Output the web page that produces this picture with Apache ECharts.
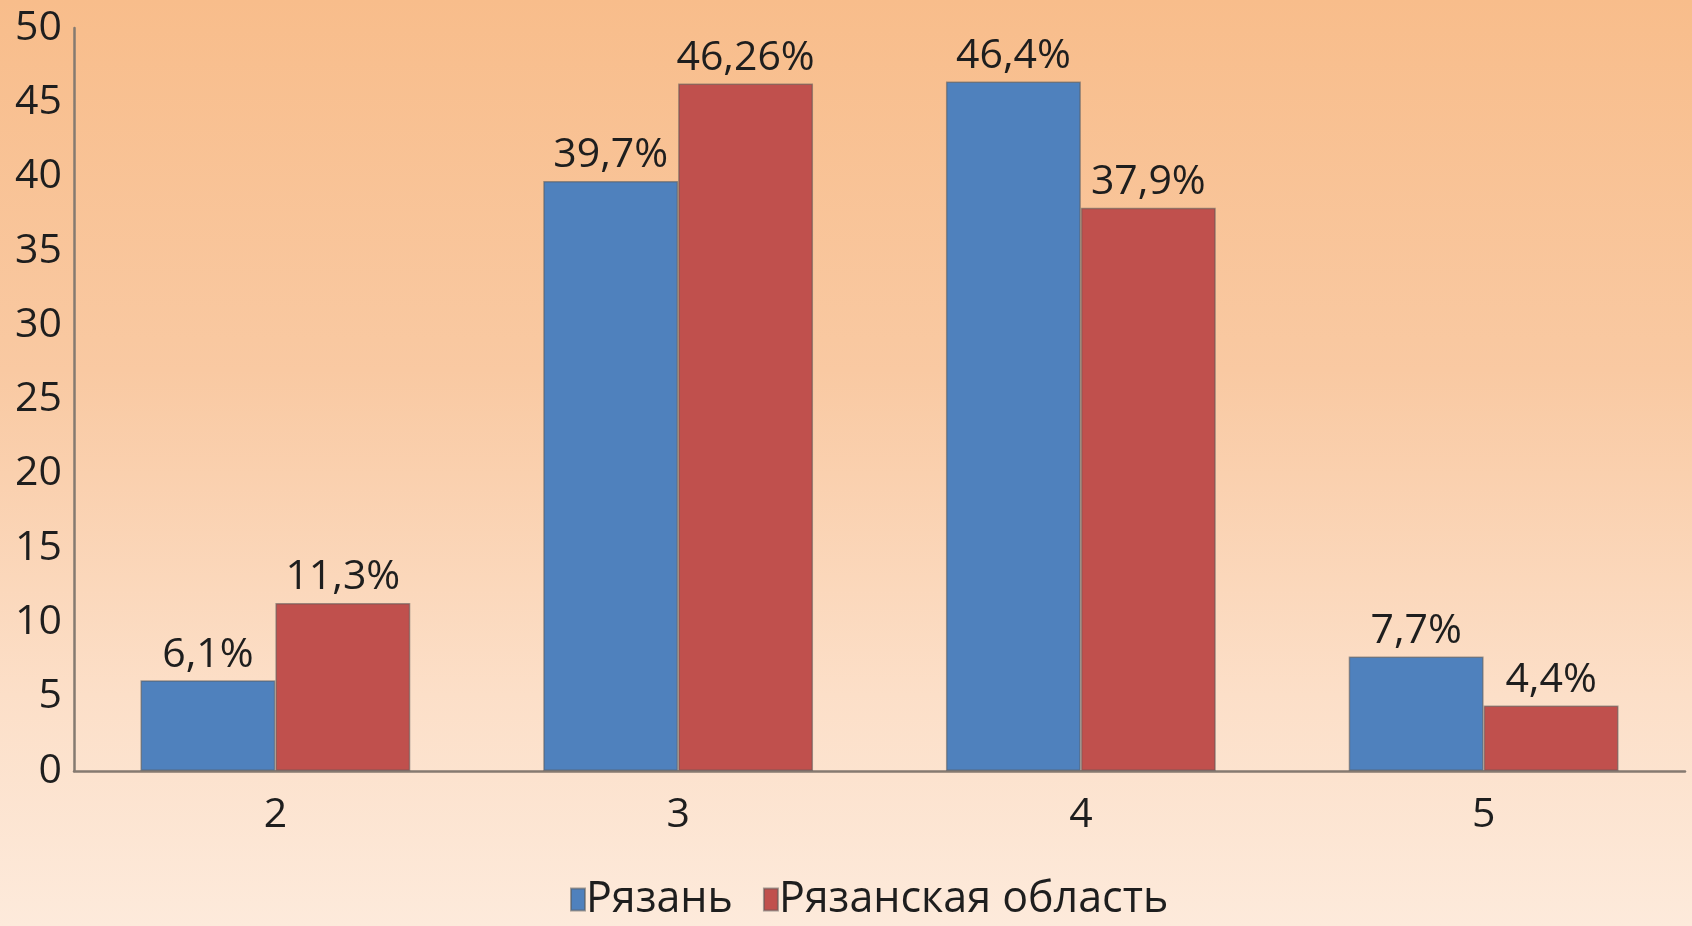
<!DOCTYPE html>
<html>
<head>
<meta charset="utf-8">
<script src="https://cdn.jsdelivr.net/npm/echarts@6/dist/echarts.min.js"></script>
<style>
  html, body { margin: 0; padding: 0; }
  #chart {
    width: 1692px; height: 926px;
    background: linear-gradient(to bottom, #f8bd8b 0%, #f9c9a2 40%, #fcdfc8 75%, #fdeadb 100%);
  }
</style>
</head>
<body>
<div id="chart"></div>
<script>
// Grades and the share of each grade (percent)
const categories = ['2', '3', '4', '5'];
const seriesNames = ['Рязань', 'Рязанская область'];
const ryazan = [6.1, 39.7, 46.4, 7.7];
const ryazanRegion = [11.3, 46.26, 37.9, 4.4];
const yTicks = { min: 0, max: 50, interval: 5 };

const font = '"Open Sans", "Noto Sans", sans-serif';
const pct = p => String(p.value).replace('.', ',') + '%';

function barSeries(name, data, color) {
  return {
    name: name,
    type: 'bar',
    data: data,
    barGap: '0%',
    barCategoryGap: '33%',
    itemStyle: { color: color, borderColor: 'rgba(90,90,90,0.55)', borderWidth: 1.5 },
    label: {
      show: true, position: 'top', distance: 5,
      formatter: pct, color: '#1e1e1e', fontFamily: font, fontSize: 41
    }
  };
}

const chart = echarts.init(document.getElementById('chart'));
chart.setOption({
  animation: false,
  grid: { left: 74, right: 7, top: 28, bottom: 155, containLabel: false },
  legend: {
    bottom: 0, left: 565,
    itemWidth: 14, itemHeight: 22, itemGap: 30,
    icon: 'rect',
    textStyle: { fontFamily: font, fontSize: 43, color: '#1e1e1e', padding: [0, 0, 0, -4] },
    data: seriesNames
  },
  xAxis: {
    type: 'category',
    data: categories,
    axisLine: { lineStyle: { color: '#857a70', width: 2.5 } },
    axisTick: { show: false },
    axisLabel: { fontFamily: font, fontSize: 41, color: '#1e1e1e', margin: 24 }
  },
  yAxis: {
    type: 'value',
    min: yTicks.min, max: yTicks.max, interval: yTicks.interval,
    axisLine: { show: true, lineStyle: { color: '#857a70', width: 2.5 } },
    axisTick: { show: false },
    splitLine: { show: false },
    axisLabel: { fontFamily: font, fontSize: 41, color: '#1e1e1e', margin: 12 }
  },
  series: [
    barSeries(seriesNames[0], ryazan, '#4f81bd'),
    barSeries(seriesNames[1], ryazanRegion, '#c0504d')
  ]
});
</script>
</body>
</html>
